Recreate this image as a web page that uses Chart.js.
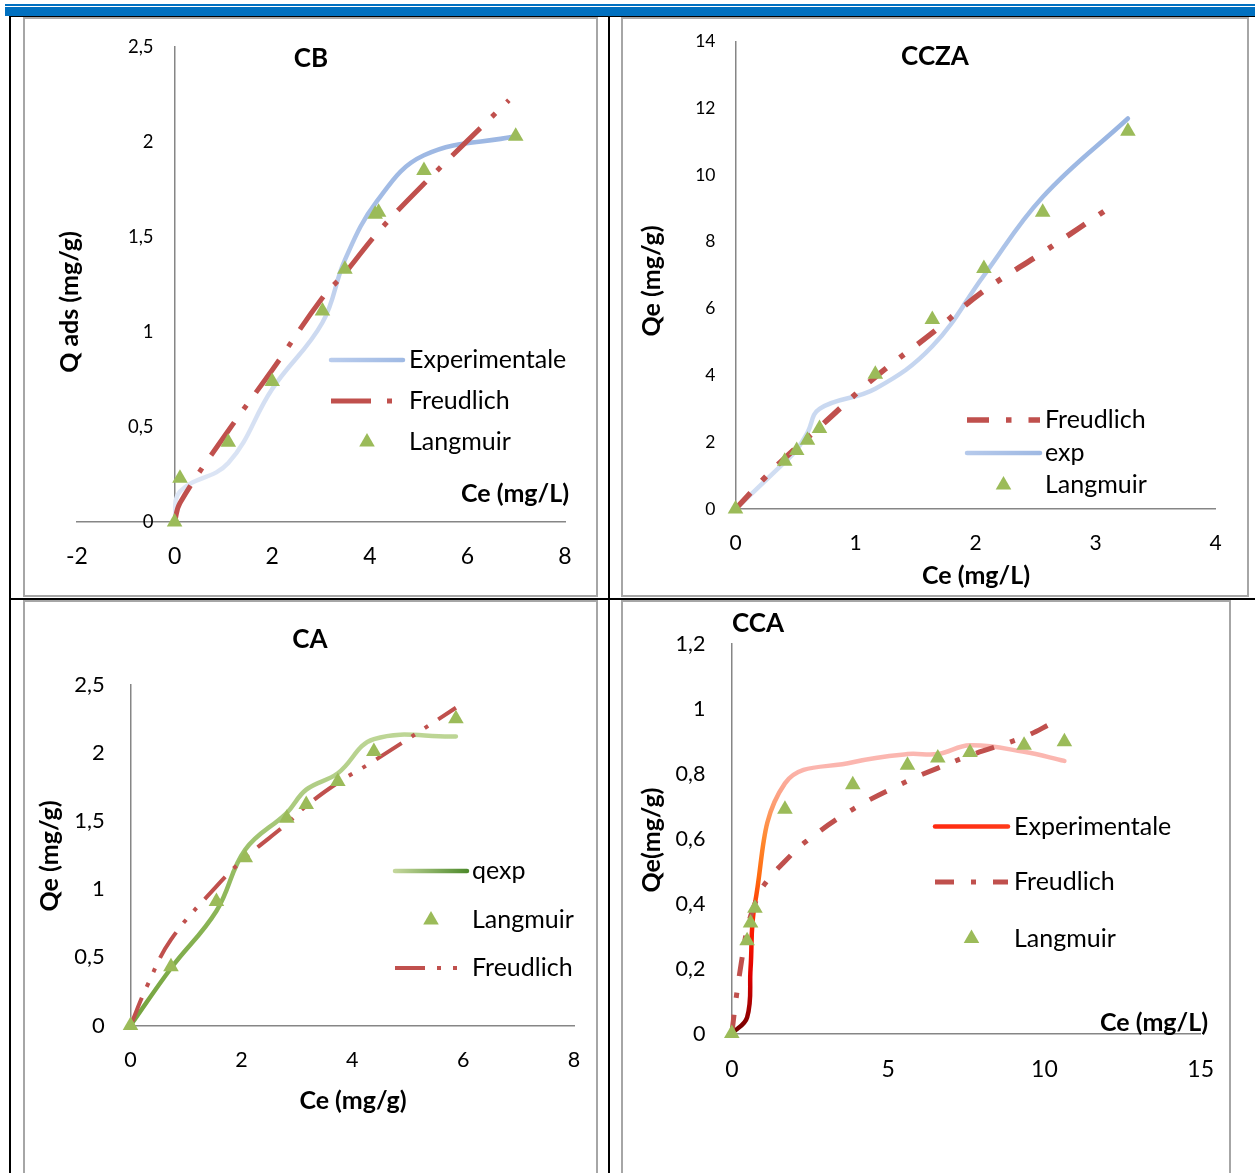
<!DOCTYPE html>
<html>
<head>
<meta charset="utf-8">
<script src="https://cdn.jsdelivr.net/npm/chart.js@4.4.1/dist/chart.umd.min.js"></script>
<style>
  body { margin: 0; background: #fff; width: 1255px; height: 1173px; overflow: hidden; position: relative; }
  .blue { position: absolute; background: #0070c0; }
  .rule { position: absolute; background: #000; }
  .box { position: absolute; border: 2px solid #a6a6a6; box-sizing: border-box; background: #fff; }
  canvas { position: absolute; }
</style>
</head>
<body>
<div class="blue" style="left:5px;top:4px;width:1250px;height:2px"></div>
<div class="blue" style="left:5px;top:7px;width:1250px;height:9px"></div>
<div class="rule" style="left:9px;top:16px;width:1246px;height:1px"></div>
<div class="rule" style="left:9px;top:16px;width:2px;height:1157px"></div>
<div class="rule" style="left:608px;top:16px;width:2px;height:1157px"></div>
<div class="rule" style="left:9px;top:598px;width:1246px;height:2px"></div>

<div class="box" style="left:23px;top:17px;width:575px;height:580px"></div>
<div class="box" style="left:621px;top:17px;width:628px;height:580px"></div>
<div class="box" style="left:23px;top:600px;width:575px;height:600px"></div>
<div class="box" style="left:621px;top:600px;width:610px;height:600px"></div>

<canvas id="cb" width="571" height="576" style="left:25px;top:19px"></canvas>
<canvas id="ccza" width="624" height="576" style="left:623px;top:19px"></canvas>
<canvas id="ca" width="571" height="571" style="left:25px;top:602px"></canvas>
<canvas id="cca" width="606" height="571" style="left:623px;top:602px"></canvas>

<script>
// ---- CB ----
const cbCe = [0, 0.11, 1.10, 2.00, 3.03, 3.49, 4.15, 5.11, 6.99];
const cbExp = [0, 0.16, 0.31, 0.70, 1.05, 1.38, 1.69, 1.93, 2.03];
const cbFreudCe = [0, 0.11, 1.10, 2.00, 3.03, 3.49, 4.15, 5.11, 6.85];
const cbFreud = [0, 0.10, 0.48, 0.80, 1.18, 1.31, 1.52, 1.78, 2.22];
const cbLangCe = [0, 0.11, 1.10, 2.00, 3.03, 3.49, 4.11, 4.18, 5.11, 6.99];
const cbLang = [0, 0.23, 0.42, 0.74, 1.11, 1.33, 1.62, 1.63, 1.85, 2.03];
const cbXTicks = [-2, 0, 2, 4, 6, 8];
const cbYTicks = [0, 0.5, 1, 1.5, 2, 2.5];

// ---- CCZA ----
const cczaCe = [0, 0.41, 0.51, 0.60, 0.70, 1.165, 1.64, 2.07, 2.56, 3.27];
const cczaExp = [0, 1.40, 1.78, 2.29, 3.00, 3.60, 4.87, 6.99, 9.34, 11.69];
const cczaLang = [0, 1.43, 1.75, 2.06, 2.41, 4.03, 5.67, 7.20, 8.88, 11.31];
const cczaFreudCe = [0, 0.24, 0.41, 0.70, 1.165, 1.64, 2.07, 2.56, 3.15];
const cczaFreud = [0, 0.92, 1.52, 2.45, 3.95, 5.27, 6.53, 7.68, 9.10];
const cczaXTicks = [0, 1, 2, 3, 4];
const cczaYTicks = [0, 2, 4, 6, 8, 10, 12, 14];

// ---- CA ----
const caCe = [0, 0.73, 1.55, 2.07, 2.82, 3.17, 3.74, 4.39, 5.87];
const caExp = [0, 0.42, 0.84, 1.29, 1.56, 1.73, 1.85, 2.10, 2.12];
const caLang = [0, 0.43, 0.91, 1.23, 1.52, 1.62, 1.79, 2.01, 2.25];
const caFreudCe = [0, 0.30, 0.73, 1.55, 2.07, 2.82, 3.17, 3.74, 4.39, 5.87];
const caFreud = [0, 0.29, 0.63, 1.02, 1.23, 1.48, 1.61, 1.78, 1.94, 2.33];
const caXTicks = [0, 2, 4, 6, 8];
const caYTicks = [0, 0.5, 1, 1.5, 2, 2.5];

// ---- CCA ----
const ccaCe = [0, 0.49, 0.60, 0.74, 1.70, 3.87, 5.62, 6.59, 7.62, 9.35, 10.64];
const ccaExp = [0, 0.05, 0.20, 0.40, 0.77, 0.835, 0.86, 0.86, 0.887, 0.867, 0.839];
const ccaLang = [0, 0.286, 0.34, 0.386, 0.69, 0.766, 0.826, 0.848, 0.865, 0.887, 0.898];
const ccaFreudCe = [0, 0.14, 0.30, 0.49, 0.74, 1.05, 1.70, 2.36, 3.87, 5.62, 6.59, 7.62, 9.35, 10.30];
const ccaFreud = [0, 0.11, 0.215, 0.32, 0.40, 0.46, 0.53, 0.59, 0.69, 0.777, 0.817, 0.856, 0.913, 0.958];
const ccaXTicks = [0, 5, 10, 15];
const ccaYTicks = [0, 0.2, 0.4, 0.6, 0.8, 1, 1.2];

const RED = '#c0504d';
const GREEN = '#9bbb59';
const FONT = 'Lato';

Chart.defaults.font.family = FONT;
Chart.defaults.color = '#000';

const pairs = (xs, ys) => xs.map((x, i) => ({x: x, y: ys[i]}));
const fmt = v => String(v).replace('.', ',');

// gradient du bas vers le haut de la zone de tracé
function vGrad(stops) {
  return (c) => {
    const a = c.chart.chartArea;
    if (!a) return stops[0][1];
    const g = c.chart.ctx.createLinearGradient(0, a.bottom, 0, a.top);
    stops.forEach(s => g.addColorStop(s[0], s[1]));
    return g;
  };
}

function expLine(label, xs, ys, color) {
  return {label, data: pairs(xs, ys), showLine: true, borderColor: color, borderWidth: 4.5,
    borderCapStyle: 'round', borderJoinStyle: 'round', tension: 0.4, pointRadius: 0, order: 2, clip: false};
}
function fitLine(label, xs, ys, dash, width) {
  return {label, data: pairs(xs, ys), showLine: true, borderColor: RED, borderWidth: width, borderDash: dash,
    borderCapStyle: 'butt', tension: 0.4, pointRadius: 0, order: 1, clip: false};
}
function markers(label, xs, ys) {
  return {label, data: pairs(xs, ys), showLine: false, pointStyle: 'triangle', pointRadius: 9,
    pointBackgroundColor: GREEN, pointBorderWidth: 0, order: 0, clip: false};
}

function triangle(ctx, x, y, r) {
  ctx.beginPath();
  for (let k = 0; k < 3; k++) {
    const a = k * 2 * Math.PI / 3;
    const px = x + Math.sin(a) * r, py = y - Math.cos(a) * r;
    if (k === 0) ctx.moveTo(px, py); else ctx.lineTo(px, py);
  }
  ctx.closePath();
  ctx.fill();
}

// titres, titres d'axes et légende dessinés dans la zone du graphique
function decor(d) {
  return {
    id: 'decor',
    afterDatasetsDraw(chart) {
      const ctx = chart.ctx;
      ctx.save();
      ctx.fillStyle = '#000';
      ctx.textBaseline = 'middle';

      // étiquettes de l'axe vertical placé en x = 0 (CB)
      if (d.yLabels) {
        const yl = d.yLabels;
        const x0 = chart.scales.x.getPixelForValue(0) - yl.pad;
        ctx.font = yl.size + 'px ' + FONT;
        ctx.textAlign = 'right';
        yl.ticks.forEach(v => ctx.fillText(fmt(v), x0, chart.scales.y.getPixelForValue(v)));
      }

      ctx.textAlign = 'center';
      ctx.font = 'bold ' + d.titleSize + 'px ' + FONT;
      ctx.fillText(d.title[0], d.title[1], d.title[2]);
      ctx.font = 'bold ' + d.axisSize + 'px ' + FONT;
      ctx.fillText(d.xTitle[0], d.xTitle[1], d.xTitle[2]);
      ctx.save();
      ctx.translate(d.yTitle[1], d.yTitle[2]);
      ctx.rotate(-Math.PI / 2);
      ctx.fillText(d.yTitle[0], 0, 0);
      ctx.restore();

      const lg = d.legend;
      ctx.font = lg.size + 'px ' + FONT;
      ctx.textAlign = 'left';
      lg.rows.forEach(row => {
        const ds = chart.data.datasets[row.ds];
        if (ds.showLine) {
          ctx.save();
          let col = row.color || ds.borderColor;
          if (Array.isArray(col)) {
            const g = ctx.createLinearGradient(lg.x0, 0, lg.x1, 0);
            g.addColorStop(0, col[0]); g.addColorStop(1, col[1]);
            col = g;
          }
          ctx.strokeStyle = col;
          ctx.lineWidth = ds.borderWidth;
          ctx.setLineDash(ds.borderDash || []);
          ctx.lineCap = ds.borderDash ? 'butt' : 'round';
          ctx.beginPath();
          ctx.moveTo(lg.x0, row.y);
          ctx.lineTo(lg.x1, row.y);
          ctx.stroke();
          ctx.restore();
        } else {
          ctx.fillStyle = GREEN;
          triangle(ctx, (lg.x0 + lg.x1) / 2, row.y, 9);
          ctx.fillStyle = '#000';
        }
        ctx.fillText(ds.label, lg.textX, row.y);
      });
      ctx.restore();
    }
  };
}

function axis(min, max, ticks, pos, size, pad, width) {
  return {
    type: 'linear', min, max, position: pos,
    afterBuildTicks: s => { s.ticks = ticks.map(v => ({value: v})); },
    afterFit: s => {
      // la zone de tracé est fixée par layout.padding seul
      s.paddingLeft = s.paddingRight = s.paddingTop = s.paddingBottom = 0;
      if (width) s.width = width;
    },
    grid: {display: false, drawTicks: false},
    border: {display: true, color: '#868686', width: 1.5},
    ticks: {display: size > 0, font: {size: size || 12}, color: '#000', padding: pad, autoSkip: false, maxRotation: 0, callback: fmt}
  };
}

function build(id, datasets, xs, ys, padding, d) {
  return new Chart(document.getElementById(id), {
    type: 'scatter',
    data: {datasets},
    options: {
      responsive: false,
      animation: false,
      layout: {padding},
      plugins: {legend: {display: false}, tooltip: {enabled: false}, title: {display: false}},
      scales: {x: xs, y: ys}
    },
    plugins: [decor(d)]
  });
}

// CB
build('cb', [
  expLine('Experimentale', cbCe, cbExp, vGrad([[0, '#e0e8f6'], [0.42, '#ccd9f0'], [0.55, '#b4c8ea'], [0.68, '#a3bce5'], [1, '#93b0df']])),
  fitLine('Freudlich', cbFreudCe, cbFreud, [40, 16, 5, 16], 5),
  markers('Langmuir', cbLangCe, cbLang)
],
  axis(-2, 8, cbXTicks, {y: 0}, 23, 21),
  axis(0, 2.5, cbYTicks, {x: 0}, 0, 0),
  {left: 52, right: 31, top: 28, bottom: 73},
  {titleSize: 26, axisSize: 25, title: ['CB', 286, 40], yTitle: ['Q ads (mg/g)', 45, 283], xTitle: ['Ce (mg/L)', 490, 475],
   yLabels: {ticks: cbYTicks, size: 18.5, pad: 21},
   legend: {size: 25, x0: 306, x1: 378, textX: 384, rows: [
     {ds: 0, y: 341, color: ['#b9cced', '#a0bae4']}, {ds: 1, y: 382}, {ds: 2, y: 423}]}}
);

// CCZA
build('ccza', [
  fitLine('Freudlich', cczaFreudCe, cczaFreud, [22, 17, 5.5, 17], 5.5),
  expLine('exp', cczaCe, cczaExp, vGrad([[0, '#d4e0f3'], [0.35, '#c3d4ef'], [0.5, '#b3c8ea'], [0.66, '#a2bce5'], [1, '#8fadde']])),
  markers('Langmuir', cczaCe, cczaLang)
],
  axis(0, 4, cczaXTicks, {y: 0}, 21, 22),
  axis(0, 14, cczaYTicks, 'left', 17.5, 20, 112.5),
  {left: 0, right: 31.5, top: 22.3, bottom: 86},
  {titleSize: 26, axisSize: 25, title: ['CCZA', 312, 38], yTitle: ['Qe (mg/g)', 29, 262], xTitle: ['Ce (mg/L)', 353, 557],
   legend: {size: 25, x0: 344, x1: 417, textX: 422, rows: [
     {ds: 0, y: 401}, {ds: 1, y: 434, color: ['#b5c9eb', '#9fb9e3']}, {ds: 2, y: 466}]}}
);

// CA
build('ca', [
  expLine('qexp', caCe, caExp, vGrad([[0, '#73a23d'], [0.4, '#90b95c'], [0.62, '#a9c97c'], [0.84, '#bcd594'], [1, '#c6da9f']])),
  markers('Langmuir', caCe, caLang),
  fitLine('Freudlich', caFreudCe, caFreud, [30, 12, 4, 12, 4, 12], 4)
],
  axis(0, 8, caXTicks, {y: 0}, 21.5, 21.4),
  axis(0, 2.5, caYTicks, 'left', 22, 25.7, 105.5),
  {left: 0, right: 22, top: 82.6, bottom: 147.5},
  {titleSize: 26, axisSize: 25, title: ['CA', 285, 38], yTitle: ['Qe (mg/g)', 25, 254], xTitle: ['Ce (mg/g)', 328, 499],
   legend: {size: 25, x0: 370, x1: 442, textX: 447, rows: [
     {ds: 0, y: 269, color: ['#c3d69b', '#4f8b2d']}, {ds: 1, y: 318}, {ds: 2, y: 366}]}}
);

// CCA
build('cca', [
  expLine('Experimentale', ccaCe, ccaExp, vGrad([[0, '#6e0000'], [0.06, '#a00000'], [0.15, '#e00000'], [0.28, '#ff2000'], [0.4, '#ff6a10'], [0.5, '#ff8a30'], [0.62, '#fca48a'], [0.68, '#fbb5ae'], [1, '#fbc6c3']])),
  fitLine('Freudlich', ccaFreudCe, ccaFreud, [19, 17, 5, 17], 5),
  markers('Langmuir', ccaCe, ccaLang)
],
  axis(0, 15, ccaXTicks, {y: 0}, 23, 22.6),
  axis(0, 1.2, ccaYTicks, 'left', 21.5, 26.4, 108.8),
  {left: 0, right: 28.3, top: 41.6, bottom: 139.4},
  {titleSize: 26, axisSize: 25, title: ['CCA', 135, 22], yTitle: ['Qe(mg/g)', 29, 238], xTitle: ['Ce (mg/L)', 531, 421],
   legend: {size: 25, x0: 312, x1: 385, textX: 391, rows: [
     {ds: 0, y: 224.5, color: ['#ff2a10', '#ff3a1a']}, {ds: 1, y: 280}, {ds: 2, y: 336.5}]}}
);
</script>
</body>
</html>
